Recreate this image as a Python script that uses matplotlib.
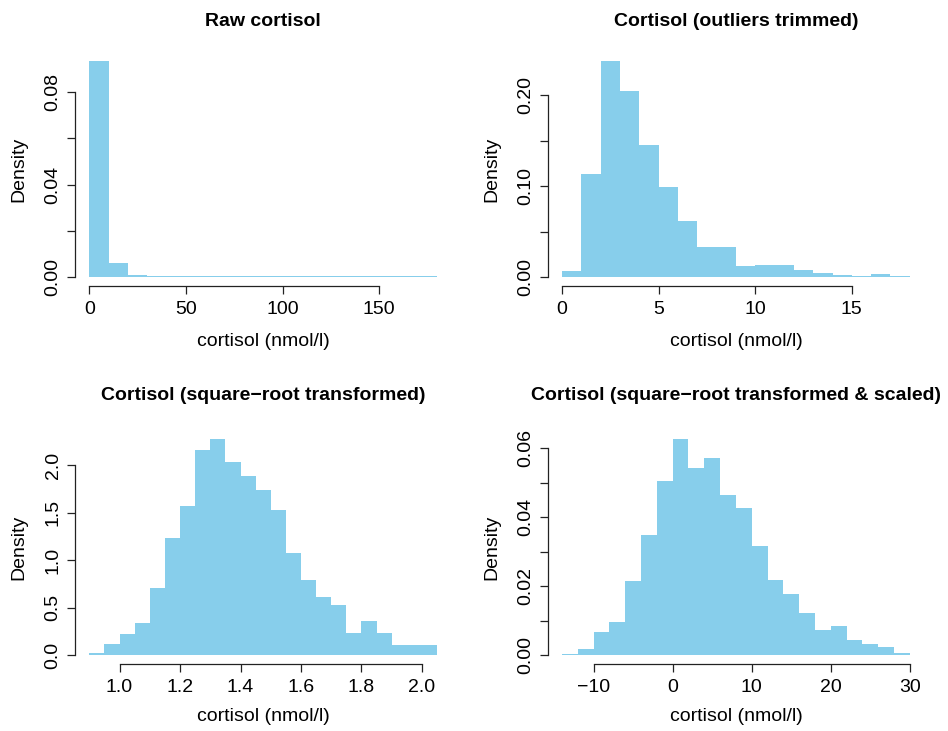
import numpy as np
import matplotlib
matplotlib.use("Agg")
import matplotlib.pyplot as plt

plt.rcParams['font.family'] = ['Liberation Sans', 'DejaVu Sans']

# --- data (densities per bin) ---
raw_edges = np.arange(0, 190, 10)
raw_density = [0.0932, 0.0060, 0.0009] + [0.0004] * 15

trim_edges = np.arange(0, 19, 1)
trim_density = [0.0073, 0.1134, 0.2373, 0.2044, 0.1452, 0.0995, 0.0618, 0.0333, 0.0333,
                0.0124, 0.0135, 0.0135, 0.0080, 0.0048, 0.0026, 0.0015, 0.0037, 0.0015]

sqrt_edges = np.round(np.arange(0.90, 2.051, 0.05), 2)
sqrt_density = [0.025, 0.119, 0.225, 0.340, 0.709, 1.239, 1.572, 2.161, 2.277, 2.035,
                1.888, 1.740, 1.533, 1.077, 0.793, 0.614, 0.530, 0.235, 0.361, 0.235,
                0.109, 0.109, 0.109]

scaled_edges = np.arange(-14, 31, 2)
scaled_density = [0.0005, 0.0019, 0.0069, 0.0098, 0.0216, 0.0350, 0.0504, 0.0627, 0.0543,
                  0.0572, 0.0465, 0.0428, 0.0318, 0.0219, 0.0179, 0.0124, 0.0074, 0.0086,
                  0.0045, 0.0034, 0.0025, 0.0008]

titles = ["Raw cortisol", "Cortisol (outliers trimmed)",
          "Cortisol (square\u2212root transformed)",
          "Cortisol (square\u2212root transformed & scaled)"]
xlabel = "cortisol (nmol/l)"

x_ticks = [[0, 50, 100, 150], [0, 5, 10, 15],
           [1.0, 1.2, 1.4, 1.6, 1.8, 2.0], [-10, 0, 10, 20, 30]]
x_ticklabels = [["0", "50", "100", "150"], ["0", "5", "10", "15"],
                ["1.0", "1.2", "1.4", "1.6", "1.8", "2.0"],
                ["\u221210", "0", "10", "20", "30"]]
y_ticks = [[0, 0.02, 0.04, 0.06, 0.08], [0, 0.05, 0.10, 0.15, 0.20],
           [0, 0.5, 1.0, 1.5, 2.0], [0, 0.01, 0.02, 0.03, 0.04, 0.05, 0.06]]
y_ticklabels = [["0.00", "", "0.04", "", "0.08"], ["0.00", "", "0.10", "", "0.20"],
                ["0.0", "0.5", "1.0", "1.5", "2.0"],
                ["0.00", "", "0.02", "", "0.04", "", "0.06"]]

panels = [(raw_edges, raw_density), (trim_edges, trim_density),
          (sqrt_edges, sqrt_density), (scaled_edges, scaled_density)]

W, H = 948, 731
fig = plt.figure(figsize=(W / 100, H / 100), dpi=100)

# plot regions in pixels: (left, top, width, height)
boxes = [(75.4, 52.4, 375.6, 233.6), (548.1, 52.4, 375.6, 233.6),
         (75.4, 430.3, 375.6, 233.7), (548.1, 430.3, 375.6, 233.7)]
title_pads = [19, 19, 22, 22]
xlabel_y = [341.7, 341.7, 716.7, 716.7]   # label centres, px from top
ylabel_x = [19, 491.5, 19, 491.5]         # label centres, px from left

bar_color = "#87CEEB"
fs = 14

for i, ((edges, dens), (l, t, w, h)) in enumerate(zip(panels, boxes)):
    ax = fig.add_axes([l / W, 1 - (t + h) / H, w / W, h / H])
    ax.stairs(dens, edges, fill=True, color=bar_color, linewidth=0)

    lo, hi = edges[0], edges[-1]
    ymax = max(dens)
    ax.set_xlim(lo - 0.04 * (hi - lo), hi + 0.04 * (hi - lo))
    ax.set_ylim(-0.04 * ymax, 1.04 * ymax)

    ax.set_xticks(x_ticks[i])
    ax.set_xticklabels(x_ticklabels[i])
    ax.set_yticks(y_ticks[i])
    ax.set_yticklabels(y_ticklabels[i], rotation=90, va="center")

    for side in ("top", "right"):
        ax.spines[side].set_visible(False)
    ax.spines["left"].set_bounds(y_ticks[i][0], y_ticks[i][-1])
    ax.spines["bottom"].set_bounds(x_ticks[i][0], x_ticks[i][-1])
    for side in ("left", "bottom"):
        ax.spines[side].set_linewidth(0.9)
        ax.spines[side].set_color("#222222")

    ax.tick_params(axis="both", length=6, width=0.9, color="#222222", labelsize=fs)
    ax.tick_params(axis="x", pad=5)
    ax.tick_params(axis="y", pad=4)

    ax.set_title(titles[i], fontsize=fs, fontweight="bold", pad=title_pads[i])
    ax.set_xlabel(xlabel, fontsize=fs, va="center")
    ax.set_ylabel("Density", fontsize=fs, va="center")
    ax.xaxis.set_label_coords(0.5, -(xlabel_y[i] - (t + h)) / h)
    ax.yaxis.set_label_coords(-(l - ylabel_x[i]) / w, 0.5)

fig.savefig("out.png", dpi=100)
